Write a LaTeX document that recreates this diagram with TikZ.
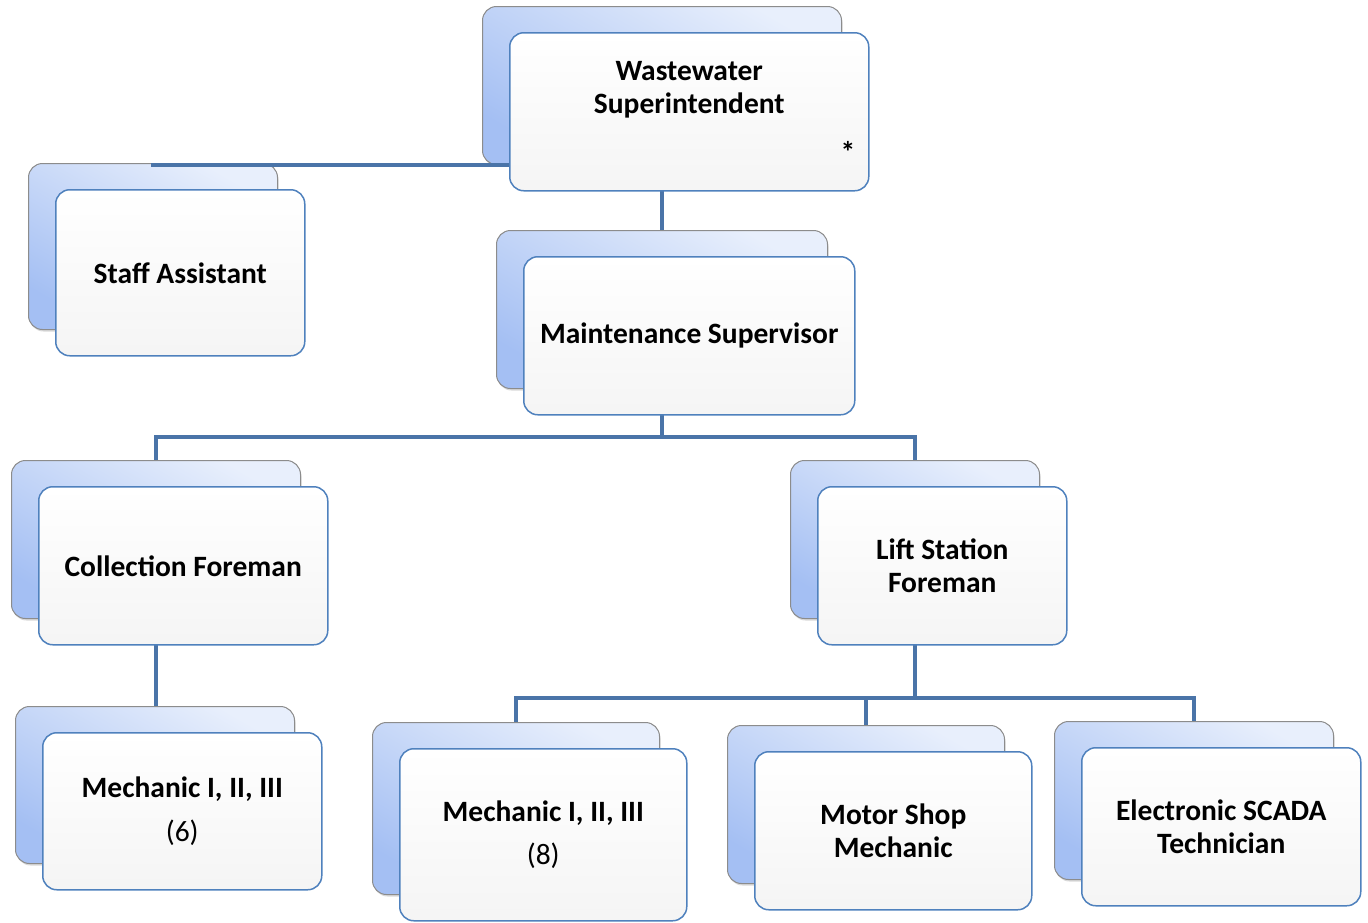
\documentclass[tikz,border=0pt]{standalone}
\usepackage{fontspec}
\setmainfont{Carlito}
\usetikzlibrary{positioning, shadows}
\pgfdeclarelayer{backdrop}
\pgfdeclarelayer{wires}
\pgfsetlayers{backdrop,wires,main}
\definecolor{linkblue}{HTML}{4A74A8}
\definecolor{frameblue}{HTML}{4F81BD}
\definecolor{cardtop}{HTML}{E8EFFC}
\definecolor{cardbottom}{HTML}{A4BFF3}
\tikzset{
    card/.style = {
      draw=black!45!white, line width=1pt, rounded corners=14pt,
      top color=cardtop, bottom color=cardbottom, shading angle=-30,
      drop shadow={shadow xshift=1pt, shadow yshift=-2pt, opacity=0.3},
    },
    post/.style = {
      draw=frameblue, line width=1.5pt, rounded corners=14pt,
      top color=white, bottom color=black!4!white,
      align=center, font=\fontsize{29.5}{32.5}\selectfont\bfseries,
    },
    link/.style = {line width=4pt, linkblue},
}
\newcommand{\staffpost}[6]{%
  %% One post of the chart:
  %% Arguments:
  %%    1. Name
  %%    2. x of the front card (top left)
  %%    3. y of the front card (top left)
  %%    4. Width
  %%    5. Height
  %%    6. Title
  \begin{pgfonlayer}{backdrop}
    \node [card, anchor=north west, minimum width=#4pt, minimum height=#5pt]
          (#1_back) at (#2-27, #3-26) {};
  \end{pgfonlayer}
  \node [post, anchor=north west, minimum width=#4pt, minimum height=#5pt]
        (#1) at (#2, #3) {#6};
}

\begin{document}
\begin{tikzpicture}[x=1pt, y=-1pt]
    \useasboundingbox (0,0) rectangle (1368,922);

    %% Top of the chart
    \staffpost{super}{509}{32}{359}{158}{Wastewater\\Superintendent\\[6pt]\strut}
    \node [font=\fontsize{29.5}{32.5}\selectfont\bfseries] (super_mark) at (848,152) {*};
    \staffpost{staff}{55}{189}{249}{166}{Staff Assistant}
    \staffpost{maint}{523}{256}{331}{158}{Maintenance Supervisor}

    %% Foremen
    \staffpost{coll}{38}{486}{289}{158}{Collection Foreman}
    \staffpost{lift}{817}{486}{249}{158}{Lift Station\\Foreman}

    %% Crews
    \staffpost{mechA}{42}{732}{279}{157}{Mechanic I, II, III\\[11pt]{\mdseries (6)}}
    \staffpost{mechB}{399}{748}{287}{172}{Mechanic I, II, III\\[11pt]{\mdseries (8)}}
    \staffpost{motor}{754}{751}{277}{158}{Motor Shop\\Mechanic}
    \staffpost{scada}{1081}{747}{279}{158}{Electronic SCADA\\Technician}

    %% Reporting lines run between the back cards
    \begin{pgfonlayer}{wires}
      \draw [link] (super_back.south) -| (staff_back.north);
      \draw [link] (super_back.south) -- (super_back.south |- maint_back.north);
      \draw [link] (maint_back.south) -- ++(0,48) -| (coll_back.north);
      \draw [link] (maint_back.south) -- ++(0,48) -| (lift_back.north);
      \draw [link] (coll_back.south) -- (coll_back.south |- mechA_back.north);
      \foreach \post in {mechB, motor, scada}{%
        \draw [link] (lift_back.south) -- ++(0,79) -| (\post_back.north);
      }
    \end{pgfonlayer}
\end{tikzpicture}
\end{document}
